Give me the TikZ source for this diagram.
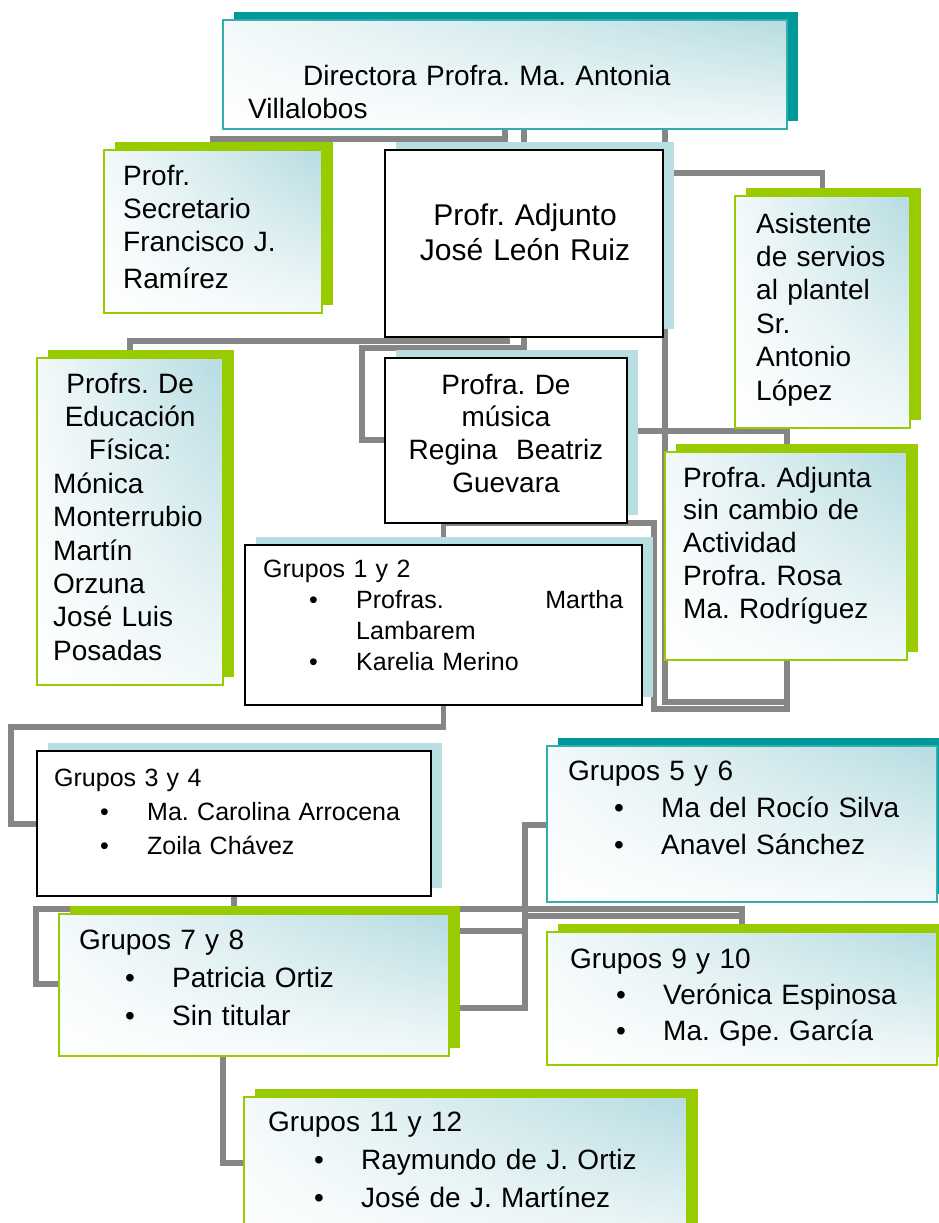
\documentclass[tikz,border=0pt]{standalone}
\usepackage{fontspec}
\setmainfont{Liberation Sans}
\usetikzlibrary{positioning,shadows,shadings,backgrounds}
\frenchspacing

\definecolor{lime}{HTML}{99CC00}
\definecolor{sea}{HTML}{009999}
\definecolor{ice}{HTML}{B8DEE2}
\definecolor{mist}{HTML}{B6DCE1}
\definecolor{frost}{HTML}{F3F9FA}
\definecolor{wire}{HTML}{868686}

\newcommand{\itm}[1]{\\\hspace*{46pt}\makebox[47pt][l]{\textbullet}#1}

\tikzset{
  link/.style={draw=wire, line width=5.5pt},
  box/.style={anchor=north west, inner sep=0pt, outer sep=0pt},
  tint/.style={lower left=white, upper left=frost, upper right=mist, lower right=frost},
  gbox/.style={box, tint, draw=lime, line width=1.5pt,
    drop shadow={fill=lime, opacity=1, shadow xshift=11pt, shadow yshift=8pt}},
  tbox/.style={box, tint, draw=sea!80, line width=1.5pt,
    drop shadow={fill=sea, opacity=1, shadow xshift=11pt, shadow yshift=8pt}},
  wbox/.style={box, fill=white, draw=black, line width=1.2pt,
    drop shadow={fill=ice, opacity=1, shadow xshift=11pt, shadow yshift=8pt}},
  txt/.style={anchor=base west, inner sep=0pt, align=left, text width=#1},
  txt/.default=360pt,
  mid/.style={anchor=base, inner sep=0pt, align=center, text width=#1},
  big/.style={font=\fontsize{28}{33.4}\selectfont},
  small/.style={font=\fontsize{25}{31}\selectfont}
}

\begin{document}
\begin{tikzpicture}[x=1pt, y=-1pt]
\useasboundingbox (0,0) rectangle (939,1223);

\node[tbox, minimum width=564pt, minimum height=109pt] (dir) at (223,20) {};
\node[gbox, minimum width=218pt, minimum height=163pt] (sec) at (104,150) {};
\node[wbox, minimum width=278pt, minimum height=187pt] (adj) at (385,150) {};
\node[gbox, minimum width=175pt, minimum height=232pt] (asis) at (735,196) {};
\node[gbox, minimum width=186pt, minimum height=327pt] (edf) at (37,358) {};
\node[wbox, minimum width=242pt, minimum height=165pt] (mus) at (385,358) {};
\node[gbox, minimum width=242pt, minimum height=208pt] (adja) at (665,452) {};
\node[wbox, minimum width=397pt, minimum height=160pt] (g12) at (245,545) {};
\node[wbox, minimum width=394pt, minimum height=145pt] (g34) at (37,751) {};
\node[tbox, minimum width=390pt, minimum height=156pt] (g56) at (547,746) {};
\node[gbox, minimum width=390pt, minimum height=142pt] (g78) at (59,914) {};
\node[gbox, minimum width=390pt, minimum height=133pt] (g910) at (547,932) {};
\node[gbox, minimum width=443pt, minimum height=160pt] (g1112) at (244,1097) {};

\node[txt=540pt, big, font=\fontsize{28}{33}\selectfont] (dirT) at (248,85)
  {\hspace*{55pt}Directora Profra. Ma. Antonia\\Villalobos};
\node[txt=195pt, big, font=\fontsize{28}{33}\selectfont] (secT) at (123,185)
  {Profr.\\Secretario\\Francisco J.\\[4pt]Ramírez};
\node[mid=270pt, font=\fontsize{30}{35}\selectfont] (adjT) at (525,225)
  {Profr. Adjunto\\José León Ruiz};
\node[txt=150pt, big] (asisT) at (756,233)
  {Asistente\\de servios\\al plantel\\Sr.\\Antonio\\López};
\node[txt=170pt, big] (edfT) at (53,393)
  {\makebox[154pt]{Profrs. De}\\\makebox[154pt]{Educación}\\\makebox[154pt]{Física:}\\
   Mónica\\Monterrubio\\Martín\\Orzuna\\José Luis\\Posadas};
\node[mid=240pt, big, font=\fontsize{28}{32.7}\selectfont] (musT) at (506,394)
  {Profra. De\\música\\Regina\ \ Beatriz\\Guevara};
\node[txt=225pt, big, font=\fontsize{28}{32.8}\selectfont] (adjaT) at (683,487)
  {Profra. Adjunta\\sin cambio de\\Actividad\\Profra. Rosa\\Ma. Rodríguez};
\node[txt=375pt, small] (g12T) at (263,577)
  {Grupos 1 y 2\itm{\makebox[267pt][l]{Profras.\hfill Martha}}\\\hspace*{93pt}Lambarem\itm{Karelia Merino}};
\node[txt=375pt, small, font=\fontsize{25}{34}\selectfont] (g34T) at (54,786)
  {Grupos 3 y 4\itm{Ma. Carolina Arrocena}\itm{Zoila Chávez}};
\node[txt=360pt, font=\fontsize{28}{37}\selectfont] (g56T) at (568,780)
  {Grupos 5 y 6\itm{Ma del Rocío Silva}\itm{Anavel Sánchez}};
\node[txt=360pt, font=\fontsize{28}{38}\selectfont] (g78T) at (79,949)
  {Grupos 7 y 8\itm{Patricia Ortiz}\itm{Sin titular}};
\node[txt=360pt, font=\fontsize{28}{36}\selectfont] (g910T) at (570,968)
  {Grupos 9 y 10\itm{Verónica Espinosa}\itm{Ma. Gpe. García}};
\node[txt=400pt, font=\fontsize{28}{38}\selectfont] (g1112T) at (268,1131)
  {Grupos 11 y 12\itm{Raymundo de J. Ortiz}\itm{José de J. Martínez}};

\begin{scope}[on background layer]
\fill[white] (0,0) rectangle (939,1223);
\draw[link] (dir.south -| 505,0) -- ++(0,10) -| (sec.north);
\draw[link] (adj.north |- dir.south) -- (adj.north);
\draw[link] (adja.west |- dir.south) -- (adja.west |- 0,702) -- (787,702) -- (787,431) -- (mus.east |- 0,431);
\draw[link] (adja.west |- 0,173) -| (asis.north);
\draw[link] (g12.north) |- (654,523) |- (787,709) -- (787,702);
\draw[link] (adj.south -| 507,0) -- ++(0,4) -| (edf.north);
\draw[link] (adj.south) -- ++(0,11) -| (362,440) -- (mus.west |- 0,440);
\draw[link] (g12.south) -- ++(0,22) -| (11,824) -- (g34.west |- 0,824);
\draw[link] (g34.south) -- ++(0,13) -| (36,984) -- (g78.west |- 0,984);
\draw[link] (g34.south |- 0,909) -| (g910.north);
\draw[link] (525,916) -- (g910.north |- 0,916);
\draw[link] (g78.east |- 0,1008) -| (525,825) -- (g56.west |- 0,825);
\draw[link] (g78.east |- 0,931) -- (525,931);
\draw[link] (g78.south -| 223,0) -- ++(0,107) -- (g1112.west |- 0,1163);
\end{scope}

\end{tikzpicture}
\end{document}
